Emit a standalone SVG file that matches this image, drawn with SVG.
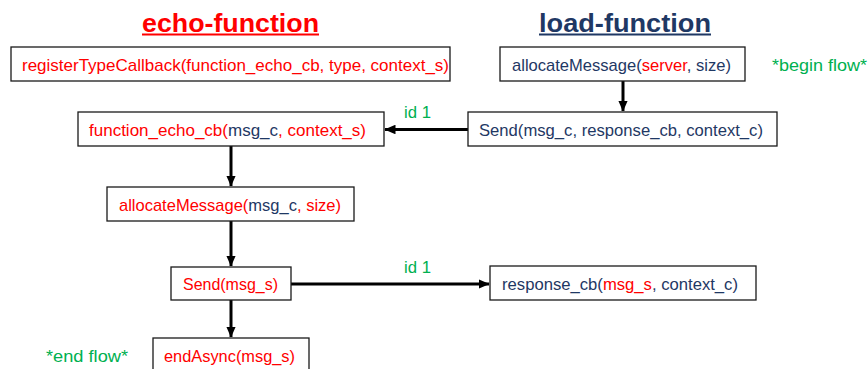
<svg xmlns="http://www.w3.org/2000/svg" width="868" height="369" viewBox="0 0 868 369">
<style>
.box{fill:#fff;stroke:#1a1a1a;stroke-width:1.3}
.t{font-family:"Liberation Sans",Arial,sans-serif;font-size:17px}
.r{fill:#ff0000}
.b{fill:#1f3864}
.g{fill:#00b050}
.title{font-family:"Liberation Sans",Arial,sans-serif;font-size:26px;font-weight:bold}
.ln{stroke:#000;stroke-width:3;fill:none}
</style>
<defs>
<marker id="ah" markerWidth="3.7" markerHeight="3.2" refX="3.5" refY="1.6" orient="auto" markerUnits="strokeWidth">
<path d="M0,0 L3.7,1.6 L0,3.2 Z" fill="#000"/>
</marker>
</defs>
<g id="title-echo">
<text class="title r" x="142" y="32" textLength="177" lengthAdjust="spacingAndGlyphs">echo-function</text>
<line x1="142" y1="34.5" x2="319" y2="34.5" stroke="#ff0000" stroke-width="2"/>
</g>
<g id="title-load">
<text class="title b" x="539" y="32" textLength="172" lengthAdjust="spacingAndGlyphs">load-function</text>
<line x1="539" y1="34.5" x2="711" y2="34.5" stroke="#1f3864" stroke-width="2"/>
</g>
<g id="connectors">
<line class="ln" x1="623" y1="81" x2="623" y2="111" marker-end="url(#ah)"/>
<line class="ln" x1="468" y1="129.5" x2="385" y2="129.5" marker-end="url(#ah)"/>
<line class="ln" x1="231" y1="146" x2="231" y2="186" marker-end="url(#ah)"/>
<line class="ln" x1="231" y1="221" x2="231" y2="266" marker-end="url(#ah)"/>
<line class="ln" x1="291" y1="284" x2="489" y2="284" marker-end="url(#ah)"/>
<line class="ln" x1="231" y1="300" x2="231" y2="337" marker-end="url(#ah)"/>
<text class="t g" x="404" y="118" textLength="27" lengthAdjust="spacingAndGlyphs">id 1</text>
<text class="t g" x="404" y="273" textLength="27" lengthAdjust="spacingAndGlyphs">id 1</text>
</g>
<g id="register">
<rect class="box" x="11" y="47" width="439" height="34"/>
<text class="t r" x="22" y="70.5" textLength="427" lengthAdjust="spacingAndGlyphs">registerTypeCallback(function_echo_cb, type, context_s)</text>
</g>
<g id="alloc-load">
<rect class="box" x="500" y="47" width="245" height="34"/>
<text class="t b" x="512" y="70.5" textLength="219" lengthAdjust="spacingAndGlyphs">allocateMessage(<tspan class="r">server</tspan>, size)</text>
</g>
<g id="begin-flow">
<text class="t g" x="772" y="70.5" textLength="95" lengthAdjust="spacingAndGlyphs">*begin flow*</text>
</g>
<g id="send-load">
<rect class="box" x="468" y="112" width="309" height="34"/>
<text class="t b" x="479" y="135.5" textLength="284" lengthAdjust="spacingAndGlyphs">Send(msg_c, response_cb, context_c)</text>
</g>
<g id="echo-cb">
<rect class="box" x="78" y="112" width="306" height="34"/>
<text class="t r" x="89" y="135.5" textLength="277" lengthAdjust="spacingAndGlyphs">function_echo_cb(<tspan class="b">msg_c</tspan>, context_s)</text>
</g>
<g id="alloc-echo">
<rect class="box" x="107" y="187" width="247" height="34"/>
<text class="t r" x="119" y="210.5" textLength="222" lengthAdjust="spacingAndGlyphs">allocateMessage(<tspan class="b">msg_c</tspan>, size)</text>
</g>
<g id="send-echo">
<rect class="box" x="171" y="267" width="120" height="33"/>
<text class="t r" x="183" y="290" textLength="95" lengthAdjust="spacingAndGlyphs">Send(msg_s)</text>
</g>
<g id="response-cb">
<rect class="box" x="490" y="266" width="266" height="34"/>
<text class="t b" x="502" y="289.5" textLength="236" lengthAdjust="spacingAndGlyphs">response_cb(<tspan class="r">msg_s</tspan>, context_c)</text>
</g>
<g id="end-async">
<rect class="box" x="153" y="338" width="156" height="40"/>
<text class="t r" x="164" y="362" textLength="131" lengthAdjust="spacingAndGlyphs">endAsync(msg_s)</text>
</g>
<g id="end-flow">
<text class="t g" x="46" y="362" textLength="82" lengthAdjust="spacingAndGlyphs">*end flow*</text>
</g>
</svg>
